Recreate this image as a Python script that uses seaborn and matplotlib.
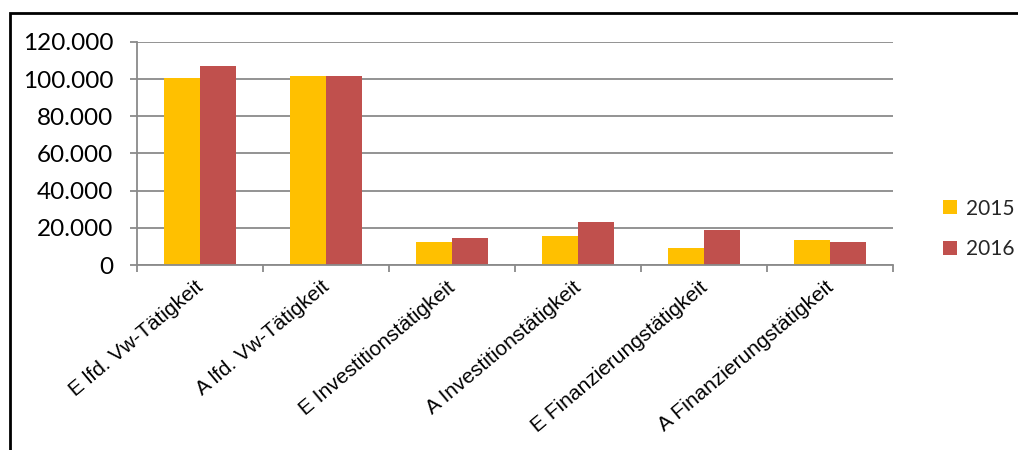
import matplotlib
matplotlib.use("Agg")
import matplotlib.pyplot as plt
import matplotlib.transforms as mtransforms
from matplotlib.patches import Rectangle, Patch
from matplotlib.ticker import FuncFormatter, MultipleLocator
import pandas as pd
import seaborn as sns

categories = [
    "E lfd. Vw-Tätigkeit",
    "A lfd. Vw-Tätigkeit",
    "E Investitionstätigkeit",
    "A Investitionstätigkeit",
    "E Finanzierungstätigkeit",
    "A Finanzierungstätigkeit",
]
years = ["2015", "2016"]
values_2015 = [100800, 101900, 12400, 15700, 9200, 13400]
values_2016 = [107300, 101900, 14500, 23000, 18800, 12400]
colors = {"2015": "#FFC000", "2016": "#C0504D"}

df = pd.DataFrame({
    "Kategorie": categories * 2,
    "Jahr": ["2015"] * len(categories) + ["2016"] * len(categories),
    "Wert": values_2015 + values_2016,
})

sns.set_theme(style="white")
plt.rcParams["font.family"] = ["Lato", "DejaVu Sans"]

fig = plt.figure(figsize=(10.18, 4.5), dpi=100)
ax = fig.add_axes([137 / 1018, 1 - 265 / 450, (893 - 137) / 1018, (265 - 42) / 450])

sns.barplot(data=df, x="Kategorie", y="Wert", hue="Jahr", hue_order=years,
            palette=colors, width=0.57, saturation=1, ax=ax, legend=False,
            edgecolor="none", linewidth=0)

grid_col = "#8a8a8a"
ax.set_ylim(0, 120000)
ax.set_xlim(-0.5, len(categories) - 0.5)
ax.yaxis.set_major_locator(MultipleLocator(20000))
ax.yaxis.set_major_formatter(FuncFormatter(lambda v, p: f"{int(v):,}".replace(",", ".")))
ax.grid(axis="y", color=grid_col, linewidth=1.3)
ax.set_axisbelow(True)
ax.set_xlabel("")
ax.set_ylabel("")

for side in ["top", "right"]:
    ax.spines[side].set_visible(False)
for side in ["left", "bottom"]:
    ax.spines[side].set_color(grid_col)
    ax.spines[side].set_linewidth(1.3)

ax.tick_params(axis="y", which="major", left=True, length=5, width=1.3,
               color=grid_col, pad=12, labelsize=17.5, labelcolor="black")

# category boundary ticks on the x axis
ax.set_xticks([i - 0.5 for i in range(len(categories) + 1)], minor=False)
ax.set_xticklabels([])
ax.tick_params(axis="x", which="major", bottom=True, length=5, width=1.3,
               color=grid_col)
ax.set_xticks(range(len(categories)), minor=True)
ax.set_xticklabels(categories, minor=True)
ax.tick_params(axis="x", which="minor", bottom=False, length=0, pad=9,
               labelsize=15, labelcolor="black")
offset = mtransforms.ScaledTranslation(-5 / 100, 0, fig.dpi_scale_trans)
for lbl in ax.get_xticklabels(minor=True):
    lbl.set_family(["Liberation Sans", "DejaVu Sans"])
    lbl.set_rotation(40)
    lbl.set_rotation_mode("anchor")
    lbl.set_ha("right")
    lbl.set_va("top")
    lbl.set_transform(lbl.get_transform() + offset)

handles = [Patch(facecolor=colors[y], edgecolor="none", label=y) for y in years]
fig.legend(handles=handles, loc="center left", bbox_to_anchor=(943 / 1018, 1 - 229 / 450),
           frameon=False, fontsize=15, handlelength=0.65, handleheight=0.65,
           handletextpad=0.45, labelspacing=1.0, borderaxespad=0, borderpad=0)

# chart-area frame
fig.patches.append(Rectangle((10 / 1018, -0.1), 1.2, 1 - 12.5 / 450 + 0.1,
                             transform=fig.transFigure, fill=False,
                             edgecolor="black", linewidth=2, figure=fig))

fig.savefig("out.png", dpi=100)
